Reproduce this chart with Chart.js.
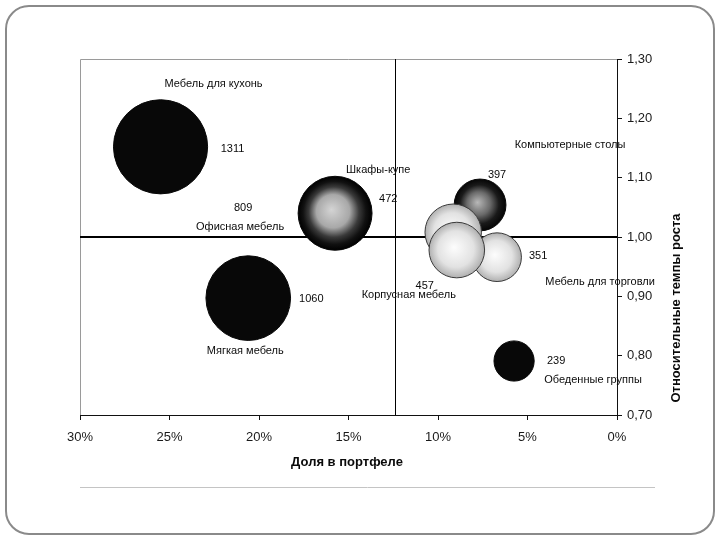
<!DOCTYPE html>
<html>
<head>
<meta charset="utf-8">
<script src="https://cdn.jsdelivr.net/npm/chart.js@4"></script>
<style>
    body { margin: 0; background: #fff; }
    #wrap { position: relative; width: 720px; height: 540px; }
    #frame {
        position: absolute; left: 5px; top: 5px; width: 706px; height: 526px;
        border: 2px solid #8a8a8a; border-radius: 24px;
    }
    #grafico { position: absolute; left: 0; top: 0; }
</style>
</head>
<body>
<div id="wrap">
    <div id="frame"></div>
    <canvas id="grafico" width="720" height="540"></canvas>
</div>
<script>
// Данные матрицы портфеля
const nomes = ["Мебель для кухонь", "Офисная мебель", "Компьютерные столы", "Мебель для торговли",
               "Шкафы-купе", "Корпусная мебель", "Мягкая мебель", "Обеденные группы"];
const dolya = [25.5, 15.75, 7.65, 6.7, 9.15, 8.95, 20.6, 5.75];
const tempy = [1.152, 1.040, 1.054, 0.966, 1.008, 0.978, 0.897, 0.791];
const obem = [1311, 809, 397, 351, 472, 457, 1060, 239];
const xTicks = [0, 5, 10, 15, 20, 25, 30];
const yTicks = [0.7, 0.8, 0.9, 1.0, 1.1, 1.2, 1.3];
const linhaX = 12.4;
const linhaY = 1.0;

// estilos (fora dos dados)
const tipos = ["preto", "escuro", "medio", "claro", "claro", "claro", "preto", "preto"];
const offNome = [[53, -63], [-95, 14], [90, -60], [103, 25], [-75, -62], [-48, 45], [-3, 53], [79, 19]];
const offValor = [[72, 2], [-92, -5], [17, -30], [41, -1], [-65, -33], [-32, 36], [63, 1], [42, 0]];
const escalaRaio = 1.3;
const fonte = '"Liberation Sans", Arial, sans-serif';

function corBolha(ctx) {
    const chart = ctx.chart;
    const i = ctx.dataIndex;
    const t = tipos[i];
    if (t === "preto" || !chart.scales.x) return "#080808";
    const px = chart.scales.x.getPixelForValue(dolya[i]);
    const py = chart.scales.y.getPixelForValue(tempy[i]);
    if (!isFinite(px) || !isFinite(py)) return "#888";
    const r = escalaRaio * Math.sqrt(obem[i]);
    const g = chart.ctx.createRadialGradient(px - r * 0.1, py - r * 0.1, 0, px, py, r);
    if (t === "escuro") {
        g.addColorStop(0, "#d4d4d4");
        g.addColorStop(0.45, "#a8a8a8");
        g.addColorStop(0.68, "#3a3a3a");
        g.addColorStop(0.85, "#111");
        g.addColorStop(1, "#000");
    } else if (t === "medio") {
        g.addColorStop(0, "#b8b8b8");
        g.addColorStop(0.45, "#6a6a6a");
        g.addColorStop(0.75, "#1a1a1a");
        g.addColorStop(1, "#050505");
    } else {
        g.addColorStop(0, "#fdfdfd");
        g.addColorStop(0.65, "#e2e2e2");
        g.addColorStop(1, "#b0b0b0");
    }
    return g;
}

const rotulos = {
    id: "rotulos",
    beforeDatasetsDraw(chart) {
        const c = chart.ctx, a = chart.chartArea;
        const sx = chart.scales.x, sy = chart.scales.y;
        c.save();
        // moldura da área
        c.strokeStyle = "#9a9a9a";
        c.lineWidth = 1;
        c.beginPath();
        c.moveTo(a.right, a.top + 0.5);
        c.lineTo(a.left + 0.5, a.top + 0.5);
        c.lineTo(a.left + 0.5, a.bottom);
        c.stroke();
        // linhas de divisão
        c.strokeStyle = "#000";
        c.lineWidth = 2;
        const yy = Math.round(sy.getPixelForValue(linhaY));
        c.beginPath();
        c.moveTo(a.left, yy);
        c.lineTo(a.right, yy);
        c.stroke();
        c.lineWidth = 1;
        const xx = Math.round(sx.getPixelForValue(linhaX)) + 0.5;
        c.beginPath();
        c.moveTo(xx, a.top);
        c.lineTo(xx, a.bottom);
        c.stroke();
        c.restore();
    },
    afterDatasetsDraw(chart) {
        const c = chart.ctx;
        const meta = chart.getDatasetMeta(0);
        c.save();
        c.fillStyle = "#0a0a0a";
        c.font = "11px " + fonte;
        c.textAlign = "center";
        c.textBaseline = "middle";
        meta.data.forEach((el, i) => {
            c.fillText(nomes[i], el.x + offNome[i][0], el.y + offNome[i][1]);
            c.fillText(String(obem[i]), el.x + offValor[i][0], el.y + offValor[i][1]);
        });
        // títulos dos eixos
        c.font = "bold 13px " + fonte;
        c.fillText("Доля в портфеле", 347, 462);
        c.translate(676, 308);
        c.rotate(-Math.PI / 2);
        c.fillText("Относительные темпы роста", 0, 0);
        c.restore();
        // linha de baixo (cinza)
        c.save();
        c.strokeStyle = "#c4c4c4";
        c.lineWidth = 1;
        c.beginPath();
        c.moveTo(80, 487.5);
        c.lineTo(655, 487.5);
        c.stroke();
        c.restore();
    }
};

new Chart(document.getElementById("grafico"), {
    type: "bubble",
    data: {
        datasets: [{
            data: nomes.map((n, i) => ({ x: dolya[i], y: tempy[i], r: escalaRaio * Math.sqrt(obem[i]) })),
            backgroundColor: corBolha,
            borderColor: ctx => tipos[ctx.dataIndex] === "claro" ? "#3a3a3a" : "#080808",
            borderWidth: 1
        }]
    },
    options: {
        responsive: false,
        animation: false,
        events: [],
        layout: { padding: { left: 80, top: 59, right: 0, bottom: 0 } },
        plugins: { legend: { display: false }, tooltip: { enabled: false } },
        scales: {
            x: {
                type: "linear",
                reverse: true,
                min: 0,
                max: 30,
                afterBuildTicks: s => { s.ticks = xTicks.map(v => ({ value: v })); },
                afterFit: s => { s.height = 125; },
                border: { color: "#111", width: 1 },
                grid: { drawOnChartArea: false, tickLength: 5, color: "#111" },
                ticks: {
                    padding: 10,
                    color: "#1a1a1a",
                    font: { family: fonte, size: 13 },
                    callback: v => v + "%"
                }
            },
            y: {
                type: "linear",
                position: "right",
                min: 0.7,
                max: 1.3,
                afterBuildTicks: s => { s.ticks = yTicks.map(v => ({ value: v })); },
                afterFit: s => { s.width = 103; },
                border: { color: "#111", width: 1 },
                grid: { drawOnChartArea: false, tickLength: 5, color: "#111" },
                ticks: {
                    padding: 5,
                    color: "#1a1a1a",
                    font: { family: fonte, size: 13 },
                    callback: v => v.toFixed(2).replace(".", ",")
                }
            }
        }
    },
    plugins: [rotulos]
});
</script>
</body>
</html>
